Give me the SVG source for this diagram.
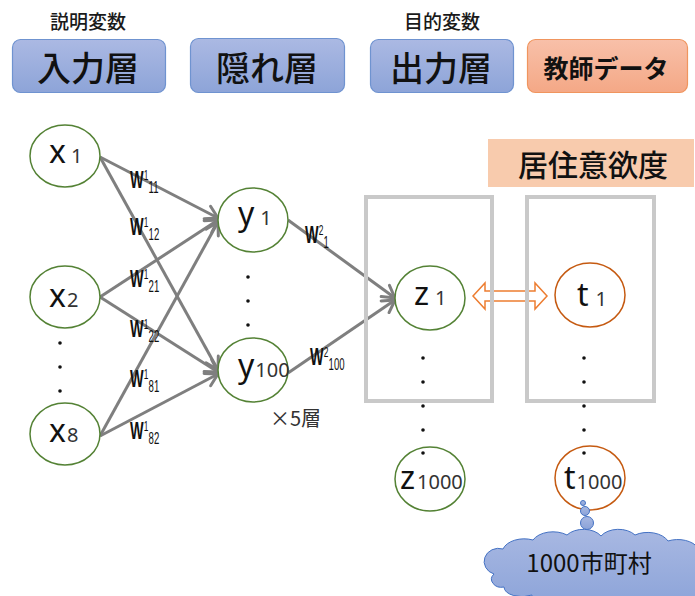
<svg xmlns="http://www.w3.org/2000/svg" width="695" height="596" viewBox="0 0 695 596">
<defs>
<linearGradient id="gBlue" x1="0" y1="0" x2="0" y2="1"><stop offset="0" stop-color="#abb9e3"/><stop offset="1" stop-color="#8da4d8"/></linearGradient>
<linearGradient id="gOrange" x1="0" y1="0" x2="0" y2="1"><stop offset="0" stop-color="#f8c0a9"/><stop offset="1" stop-color="#f4a886"/></linearGradient>
<linearGradient id="gCloud" x1="0" y1="0" x2="0" y2="1"><stop offset="0" stop-color="#a8b8e2"/><stop offset="1" stop-color="#8aa2d8"/></linearGradient>
<marker id="arr" markerUnits="userSpaceOnUse" markerWidth="18" markerHeight="18" refX="14" refY="9" orient="auto" viewBox="0 0 18 18">
<path d="M2,2 L14,9 L2,16" fill="none" stroke="#7f7f7f" stroke-width="3" stroke-linecap="round" stroke-linejoin="round"/>
</marker>
</defs>
<style>
.hdr{font-family:"Noto Sans CJK JP","Noto Sans",sans-serif;font-size:19px;fill:#1a1a1a;text-anchor:middle;font-weight:500}
.btn{stroke:#6f93d0;stroke-width:1.2;fill:url(#gBlue)}
.btxt{font-family:"Noto Sans CJK JP",sans-serif;font-size:34px;fill:#111;text-anchor:middle;font-weight:500}
.nd{fill:#fff;stroke:#548235;stroke-width:1.5}
.nt{fill:#fff;stroke:#c55a11;stroke-width:1.5}
.lbl{font-family:"Noto Sans","Noto Sans CJK JP",sans-serif;fill:#111}
.big{font-size:32px}
.sub{font-size:20px;fill:#333}
.w{font-family:"Liberation Sans","Noto Sans CJK JP",sans-serif;fill:#111}
.wb{font-weight:700;font-size:24px}
.ws{font-size:14px}
.wi{font-size:16px}
.conn{stroke:#7f7f7f;stroke-width:3;fill:none;marker-end:url(#arr)}
.gbox{fill:none;stroke:#c9c9c9;stroke-width:4}
.dot{fill:#111}
</style>

<text class="hdr" x="88" y="29">説明変数</text>
<text class="hdr" x="442" y="29">目的変数</text>

<g id="input-layer"><rect class="btn" x="12.5" y="39.5" width="153" height="53" rx="8"/><text class="btxt" x="88" y="81">入力層</text></g>
<g id="hidden-layer"><rect class="btn" x="190.5" y="38.5" width="154" height="54" rx="8"/><text class="btxt" x="267" y="81">隠れ層</text></g>
<g id="output-layer"><rect class="btn" x="370.5" y="39.5" width="143" height="53" rx="8"/><text class="btxt" x="441" y="81">出力層</text></g>
<g id="teacher-data"><rect x="527.5" y="39.5" width="160" height="53" rx="8" fill="url(#gOrange)" stroke="#f0955e" stroke-width="1.2"/><text x="606" y="78" font-family="Noto Sans CJK JP,sans-serif" font-size="25" font-weight="700" text-anchor="middle" fill="#111">教師データ</text></g>
<g id="willingness"><rect x="488" y="139" width="206" height="48" fill="#f8cbad"/><text x="593" y="176" font-family="Noto Sans CJK JP,sans-serif" font-size="30" font-weight="500" text-anchor="middle" fill="#111">居住意欲度</text></g>

<g id="connectors">
<line class="conn" x1="100" y1="157" x2="218" y2="218"/>
<line class="conn" x1="100" y1="157" x2="218" y2="370"/>
<line class="conn" x1="100" y1="297" x2="218" y2="220"/>
<line class="conn" x1="100" y1="297" x2="218" y2="372"/>
<line class="conn" x1="100" y1="436" x2="218" y2="222"/>
<line class="conn" x1="100" y1="436" x2="218" y2="374"/>
<line class="conn" x1="288" y1="220" x2="395" y2="298"/>
<line class="conn" x1="288" y1="373" x2="395" y2="300"/>
<polygon points="473,296 485,283 485,291 535,291 535,283 547,296 535,309 535,301 485,301 485,309" fill="#fff" stroke="#ed7d31" stroke-width="1.5" stroke-linejoin="miter"/>
</g>

<g id="weights">
<g transform="translate(130,188) scale(0.6,1)"><text class="w wb">W</text><text class="w ws" x="23" y="-8">1</text><text class="w wi" x="31" y="5">11</text></g>
<g transform="translate(130,235) scale(0.6,1)"><text class="w wb">W</text><text class="w ws" x="23" y="-8">1</text><text class="w wi" x="31" y="5">12</text></g>
<g transform="translate(130,287) scale(0.6,1)"><text class="w wb">W</text><text class="w ws" x="23" y="-8">1</text><text class="w wi" x="31" y="5">21</text></g>
<g transform="translate(130,337) scale(0.6,1)"><text class="w wb">W</text><text class="w ws" x="23" y="-8">1</text><text class="w wi" x="31" y="5">22</text></g>
<g transform="translate(130,387) scale(0.6,1)"><text class="w wb">W</text><text class="w ws" x="23" y="-8">1</text><text class="w wi" x="31" y="5">81</text></g>
<g transform="translate(130,439) scale(0.6,1)"><text class="w wb">W</text><text class="w ws" x="23" y="-8">1</text><text class="w wi" x="31" y="5">82</text></g>
<g transform="translate(305,243) scale(0.6,1)"><text class="w wb">W</text><text class="w ws" x="23" y="-8">2</text><text class="w wi" x="31" y="5">1</text></g>
<g transform="translate(310,365) scale(0.6,1)"><text class="w wb">W</text><text class="w ws" x="23" y="-8">2</text><text class="w wi" x="31" y="5">100</text></g>
</g>

<g id="node-x1"><ellipse class="nd" cx="65" cy="156" rx="35" ry="31"/><text class="lbl" x="49" y="163"><tspan class="big">x</tspan><tspan class="sub" dx="5">1</tspan></text></g>
<g id="node-x2"><ellipse class="nd" cx="65" cy="297" rx="35" ry="31"/><text class="lbl" x="49" y="307"><tspan class="big">x</tspan><tspan class="sub" dx="1">2</tspan></text></g>
<g id="node-x8"><ellipse class="nd" cx="65" cy="434" rx="35" ry="31"/><text class="lbl" x="49" y="442"><tspan class="big">x</tspan><tspan class="sub" dx="1">8</tspan></text></g>
<g id="node-y1"><ellipse class="nd" cx="253" cy="220" rx="35" ry="32"/><text class="lbl" x="238" y="225"><tspan class="big">y</tspan><tspan class="sub" dx="6">1</tspan></text></g>
<g id="node-y100"><ellipse class="nd" cx="253" cy="370" rx="35" ry="32"/><text class="lbl" x="238" y="377"><tspan class="big">y</tspan><tspan class="sub" dx="1" font-size="17">100</tspan></text></g>
<g id="node-z1"><ellipse class="nd" cx="430" cy="298" rx="35" ry="32"/><text class="lbl" x="414" y="305"><tspan class="big">z</tspan><tspan class="sub" dx="6">1</tspan></text></g>
<g id="node-z1000"><ellipse class="nd" cx="430" cy="479" rx="35" ry="32"/><text class="lbl" x="400" y="489"><tspan class="big">z</tspan><tspan class="sub" dx="2" font-size="18">1000</tspan></text></g>
<g id="node-t1"><ellipse class="nt" cx="590" cy="295" rx="35" ry="32"/><text class="lbl" x="577" y="306"><tspan class="big">t</tspan><tspan class="sub" dx="7">1</tspan></text></g>
<g id="node-t1000"><ellipse class="nt" cx="590" cy="478" rx="35" ry="32"/><text class="lbl" x="564" y="489"><tspan class="big">t</tspan><tspan class="sub" dx="1" font-size="18">1000</tspan></text></g>

<g id="output-box"><rect class="gbox" x="366" y="197" width="126" height="204"/></g>
<g id="teacher-box"><rect class="gbox" x="527" y="197" width="127" height="204"/></g>

<g id="dots">
<circle class="dot" cx="60" cy="343" r="1.8"/><circle class="dot" cx="60" cy="367" r="1.8"/><circle class="dot" cx="60" cy="391" r="1.8"/>
<circle class="dot" cx="248" cy="277" r="1.8"/><circle class="dot" cx="248" cy="301" r="1.8"/><circle class="dot" cx="248" cy="325" r="1.8"/>
<circle class="dot" cx="423" cy="358" r="1.8"/><circle class="dot" cx="423" cy="382" r="1.8"/><circle class="dot" cx="423" cy="406" r="1.8"/><circle class="dot" cx="423" cy="430" r="1.8"/><circle class="dot" cx="423" cy="453" r="1.8"/>
<circle class="dot" cx="584" cy="358" r="1.8"/><circle class="dot" cx="584" cy="382" r="1.8"/><circle class="dot" cx="584" cy="406" r="1.8"/><circle class="dot" cx="584" cy="430" r="1.8"/><circle class="dot" cx="584" cy="453" r="1.8"/>
</g>

<text x="270" y="426" font-family="Noto Sans CJK JP,sans-serif" font-size="20" fill="#333">×5層</text>

<g id="cloud">
<circle cx="583" cy="503" r="2.5" fill="url(#gCloud)" stroke="#4472c4" stroke-width="1"/>
<circle cx="585" cy="511" r="4.5" fill="url(#gCloud)" stroke="#4472c4" stroke-width="1"/>
<circle cx="587" cy="523" r="6.5" fill="url(#gCloud)" stroke="#4472c4" stroke-width="1"/>
<path d="M494,574 A12,11 0 0 1 503,549 A22,14 0 0 1 533,540 A22,14 0 0 1 567,535 A20,13 0 0 1 601,536 A20,13 0 0 1 635,535 A22,14 0 0 1 668,541 A22,14 0 0 1 698,548 L700,600 L660,600 A22,12 0 0 1 620,600 A22,12 0 0 1 575,600 A22,12 0 0 1 532,595 A18,10 0 0 1 504,587 A10,8 0 0 1 494,574 Z" fill="url(#gCloud)" stroke="#4472c4" stroke-width="1"/>
<text x="589" y="572" font-family="Noto Sans CJK JP,sans-serif" font-size="24" text-anchor="middle" fill="#111">1000市町村</text>
</g>
</svg>
